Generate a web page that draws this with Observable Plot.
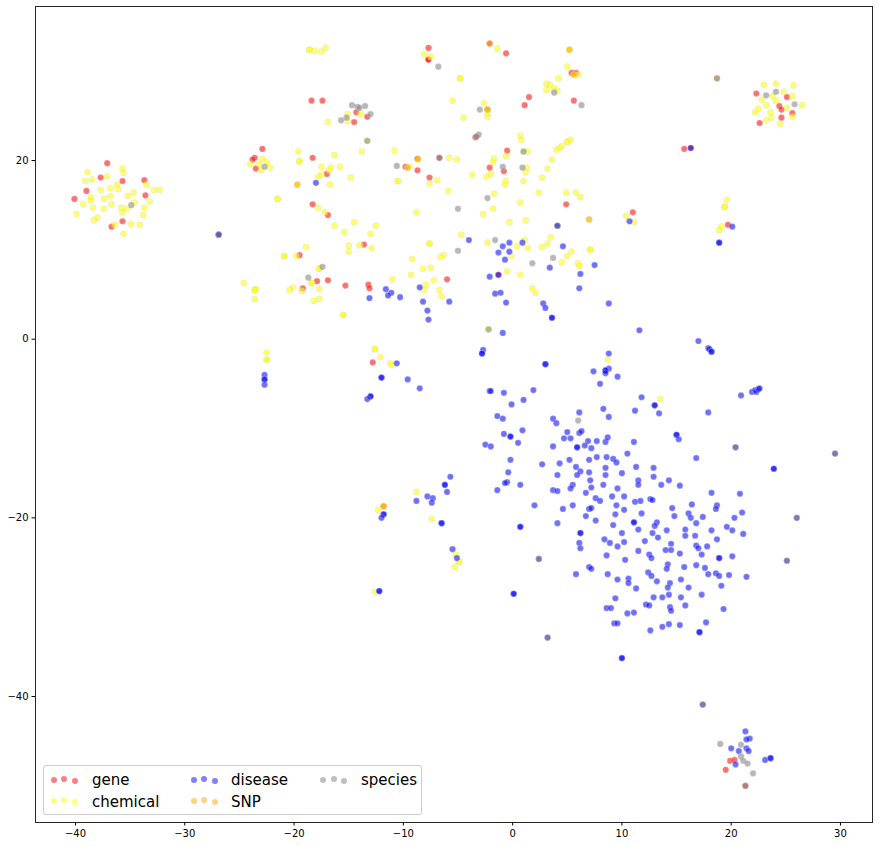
<!DOCTYPE html>
<html><head><meta charset="utf-8">
<script src="https://cdn.jsdelivr.net/npm/d3@7"></script>
<script src="https://cdn.jsdelivr.net/npm/@observablehq/plot@0.6"></script>
<style>
html,body{margin:0;padding:0;background:#fff}
#wrap{position:relative;width:879px;height:846px}
#legend{position:absolute;left:43px;top:765px;width:379px;height:50px;box-sizing:border-box;border:1px solid #ccc;border-radius:3px;background:rgba(255,255,255,.8);font:15px "DejaVu Sans",sans-serif;color:#000}
#legend .t{position:absolute;line-height:18px;white-space:nowrap}
#legend .m{position:absolute;width:6px;height:6px;border-radius:50%;opacity:.5}
svg text{font-family:"DejaVu Sans",sans-serif}
</style></head><body><div id="wrap"></div>
<script>
const seriesNames = ["gene","chemical","disease","SNP","species"];
const seriesColors = ["#ff0000","#ffff00","#0000ff","#ffa500","#808080"];
const xTicks = [-40,-30,-20,-10,0,10,20,30];
const yTicks = [20,0,-20,-40];

const gene = [[-37.1,19.7],[-37.7,18.1],[-35.7,17.7],[-33.7,17.8],[-39,16.6],[-33.6,16.1],[-40.1,15.7],[-35.7,13.2],[-36.7,12.6],
[-22.9,21.3],[-23.6,20.3],[-23.8,20.1],[-23.5,19.1],[-18.3,20.3],[-18.3,15.1],[-19.5,9.4],
[-7.7,32.6],[-7.7,31.3],[-7.7,31.3],[-2.1,33.1],[-0.6,32],[5.4,29.8],[5.8,29.8],[1.5,27.1],[1.1,26.2],[5.6,26.7],[-2.3,25.7],[-18.4,26.7],[-17.4,26.7],[-14.3,25.4],[-13.3,24.9],[-14.5,24.3],[-3.4,22.6],[-0.5,21.1],[-8.7,20.2],[-6.7,20.3],[-9.8,19.3],[-8.7,18.9],[-2.1,19.2],[-0.8,18.8],[-17,18.5],[-7.6,18.1],[4.9,15.1],[-16.9,13.9],[-13.6,10.6],[-1.3,7.2],[-17.9,6.5],[-16.9,6.6],[-15.3,6],[-19.2,5.7],[-13.2,6.1],[-13.1,5.7],[-6,6.7],
[-12.8,-2.6],[-11.8,-18.7],
[22.3,27.5],[25.1,27.1],[24.4,26.1],[24.6,25.7],[25.6,25.3],[24.6,24.8],[22.6,24.2],[15.7,21.3],[16.3,21.4],[19.7,12.8],[11,14.2],
[19.9,-47.2],[20.3,-47.1],[19.5,-48.2],[21.3,-50]];

const chemical = [[-38.9,18.7],[-38.5,17.9],[-39.1,17.7],[-37.1,18.2],[-35.7,19.1],[-35.6,18.6],[-33.5,17.3],[-36.2,17.3],[-36.1,16.8],[-36.8,16.9],[-37.7,16.7],[-34.7,16.4],[-35.2,16],[-32.8,16.7],[-32.3,16.7],[-38.6,15.9],[-38.6,15.5],[-39.3,15.1],[-37.4,15.7],[-36.8,16],[-36.7,15.1],[-38.4,14.7],[-37.4,14.6],[-34.6,15.3],[-33.2,15.4],[-33.7,14.7],[-35.8,14.7],[-35.7,14.2],[-35.3,14.6],[-33.8,13.9],[-39.9,14],[-38.3,13.3],[-38,13.6],[-36.4,12.8],[-34.9,12.9],[-34.1,12.8],[-35.6,11.8],
[-24,19.6],[-23.2,19.6],[-22.9,20.2],[-22.5,19.8],[-23,18.9],[-22.2,19.2],
[-19.6,21],[-19.5,19.9],[-19.5,19.9],[-19.7,17.3],[-21.5,15.7],[-21.5,15.7],[-18.9,10.3],[-20.9,9.3],[-20.9,9.3],[-19.8,9.3],[-24.6,6.3],
[-18.6,32.4],[-18.6,32.4],[-18.1,32.3],[-17.5,32.2],[-17.1,32.6],[-8.1,31.9],[-7.5,31.6],[-1.4,32.5],[5.2,32.4],[5.2,32.4],[-4.8,29.2],[-4.8,29.2],[5,30.5],[5.6,29.6],[6,29.6],[4.2,29.2],[3.1,28.6],[3.4,28.5],[3.8,28.1],[4.1,27.8],[3.1,27.9],[-5.5,26.7],[-2.6,26.4],[-2.3,25.7],[-2.3,25.3],[-2.3,24.9],[-4.5,24.8],[-15.1,25.2],[-13.9,25.2],[-15.1,24.4],[-16.9,24.3],[-13.3,22.2],[0.7,22.8],[0.8,22.3],[5.3,22.3],[5,22.1],[5,22.1],[4.5,21.6],[4.3,21.4],[4,21.2],[1,21],[1.4,21],[-13.8,21],[-10.8,21.1],[-16.3,20.6],[-8.6,20.1],[-5.8,20.3],[-5.1,20.1],[-0.6,20.5],[-1.7,20.2],[-1.8,19.8],[3.6,20.1],[-9.4,19.3],[-9.6,19.2],[1.3,19.2],[1.2,18.7],[3.2,19.1],[-2,18.5],[-2.4,18.2],[-3.7,18.4],[-17.5,19.3],[-16.6,19.2],[-16.8,18.9],[-15.8,19.3],[-17.5,18.4],[-17.8,18.2],[-14.8,18.1],[-16.7,17.3],[-10.5,17.7],[-10.5,17.7],[-6.9,17.8],[-7.6,17.4],[2.7,18.1],[1,17.7],[-0.6,17.7],[-0.7,17.3],[-5.9,16.6],[-1.7,16.3],[2.4,16.4],[4.9,16.4],[5.8,16.4],[6.2,15.9],[0.7,15.3],[-17.8,14.7],[-17.2,14.2],[-8.8,14.2],[-1.8,14.6],[-2.7,14],[-14.5,13.1],[-16.3,12.7],[-12.5,12.7],[-15.4,12],[-13,11.8],[-0.3,13.1],[1.2,13.3],[7,13.4],[-4.7,11.7],[1.1,11.1],[3.5,11.4],[-2.3,10.8],[0.4,10.4],[1.4,10.2],[2.7,10.3],[3.2,10.7],[-7.6,10.7],[-7.6,10.7],[-15,10.5],[-14,10.5],[-12.9,10.2],[-15,9.8],[-9.2,9],[-6.3,9.4],[-6.6,9.2],[-0.1,9.3],[5.4,9.8],[5,9.3],[4.5,8.6],[6,8.5],[6.1,8.2],[7.1,10],[7.1,10],[-8.2,7.9],[-7.5,8],[-9.3,7.2],[-11,6.7],[-7.2,6.6],[-0.5,7.6],[0.7,7.2],[-17.7,7.9],[-17.7,7.9],[-18.4,6.3],[-18.4,6.3],[-7.9,6.1],[-8.1,5.5],[-6.7,5.5],[-6.5,4.8],[-23.5,5.6],[-23.6,5.5],[-23.6,5.5],[-23.6,4.5],[-20.1,5.8],[-20.4,5.5],[-19.3,5.4],[-17.7,5.6],[-17.7,4.5],[-18.2,4.3],[-15.5,2.7],[-15.5,2.7],[-2.2,1.1],[1.8,5.7],[2.1,5.2],
[-22.5,-1.5],[-22.5,-2.3],[-22.5,-2.3],[-12.6,-1.1],[-12.6,-1.1],[-12.1,-2],[-11.2,-2.7],[-11,-2.9],[8.7,-2.3],[13.5,-6.7],[-8.8,-17.1],[-11.8,-18.7],[-12.3,-19.1],[-7.4,-20.1],[-5.2,-24.1],[-4.9,-24.9],[-4.9,-24.9],[-5.3,-25.5],[-12.6,-28.3],
[23,28.5],[24.1,28.6],[25.7,28.4],[24.8,27.7],[23.8,27.2],[25.6,27.2],[22.8,26.8],[24.1,26.7],[23.2,26.2],[25.1,25.9],[26.5,26.2],[22.5,25.8],[22.2,25.4],[23.6,25.4],[23.7,24.8],[23.2,24.5],[25.6,24.9],[24.5,24.1],
[19.6,15.6],[19.4,14.8],[19.4,14.8],[19.1,12.6],[18.9,12.2],[10.4,13.8],[11.1,13.1]];

const disease = [[-26.9,11.7],[-26.9,11.7],[-18,17.5],[-4,11.1],[-0.3,10.8],[0.9,10.8],[-0.9,10.4],[4.6,10.4],[-1.3,9.7],[-0.3,9.8],[-0.7,8.9],[3.4,8],[-2.1,7],[-1.3,7.2],[6.2,7.3],[7.5,8.3],[6.1,5.7],[2.8,4],[3,3.5],[3.6,2.4],[3.6,2.4],[8.8,4],[11.6,1],[4.1,12.7],[4.1,12.7],
[-11.6,5.6],[-11.1,5.2],[-11.4,4.9],[-10.3,4.7],[-13.1,4.6],[-8.5,5.8],[-8.2,4.2],[-7.8,3.2],[-7.7,2.2],[-5.8,4.2],[-1.6,5.1],[-1.1,5.2],[-0.6,4.1],[-0.9,0.7],[-2.7,-1.2],[-2.8,-1.6],[-2.8,-1.6],
[-22.7,-4],[-22.7,-4.5],[-22.7,-4.5],[-22.7,-5.1],[-10.6,-2.7],[-12,-4.3],[-12,-4.3],[-9.6,-4.5],[-8.5,-5.5],[-13,-6.4],[-13,-6.4],[-13.3,-6.7],
[-2.1,-5.8],[-2,-5.8],[-0.8,-6],[-0.1,-7.3],[-1.4,-8.6],[-0.9,-8.9],[-0.8,-10.6],[-0.2,-10.9],[-0.2,-10.9],[0.5,-11.6],[-2.5,-11.8],[-2,-12],[-0.2,-13.5],[-0.4,-14.9],[-0.5,-16],[-0.7,-16.1],[-1.4,-16.9],[0.7,-16.3],[0.7,-21],[0.7,-21],
[-5.7,-15.4],[-6.2,-16.3],[-6.2,-16.3],[-6,-17.1],[-8.8,-18.1],[-7.8,-17.6],[-7.3,-17.8],[-7.4,-18.3],[-6.5,-20.6],[-6.5,-20.6],[-11.8,-19.6],[-11.8,-19.6],[-12,-20],[-5.5,-23.5],[-5.1,-24.5],[-12.2,-28.2],[-12.2,-28.2],[0.1,-28.5],[0.1,-28.5],[10,-35.7],[10,-35.7],[17.4,-40.9],[29.5,-12.8],[20.4,-12.1],[26,-20],[2.4,-24.6],[25.1,-24.8],[3.2,-33.4],
[17,-0.2],[17.9,-1],[18,-1.1],[18.2,-1.4],[18.2,-1.4],[8.8,-1.6],[3,-2.8],[3,-2.8],[7.4,-3.6],[8.8,-3.3],[8.5,-3.5],[8.5,-3.5],[8.5,-3.8],[9.6,-4.2],[8,-5],[1.9,-5.7],[1,-6.8],[11.8,-6.5],[13,-7.4],[13,-7.4],[11.2,-8],[13.4,-8.3],[17.9,-8.2],[20.9,-6.3],[21.9,-5.9],[22.2,-5.7],[22.3,-5.9],[22.5,-5.6],[22.6,-5.5],
[6.1,-8.2],[8.3,-7.8],[8.8,-8.7],[3.7,-8.9],[4,-9.4],[5,-10.4],[6.1,-10.5],[6.3,-10.3],[0.9,-10.2],[4.7,-11.1],[5.3,-11.1],[6.9,-11.4],[7.7,-11.4],[8.5,-11.5],[8.7,-11],[11.1,-11.5],[6.6,-11.9],[3.7,-12],[5.9,-12.1],[5.9,-12.1],[7.2,-12.2],[10.5,-12.8],[15,-10.7],[15,-10.7],[15.2,-11.2],[16.8,-13.3],[23.9,-14.5],[23.9,-14.5],
[7.7,-13.2],[8.6,-13.2],[9.2,-13.4],[9.5,-13.8],[7,-13.5],[5.2,-13.5],[4.3,-13.9],[2.7,-14],[5.8,-14.3],[8.5,-14.4],[11.3,-14.3],[12.9,-14.4],[6.2,-14.8],[7,-14.9],[10,-15],[4.1,-15.2],[5.9,-15.2],[8.5,-15.2],[12.9,-15.4],[7.1,-15.8],[11.5,-15.8],[14.3,-15.8],[5.5,-16.3],[7.2,-16.6],[8.3,-16.3],[11.5,-16.3],[13.6,-16.3],[15.3,-16.4],[5.3,-16.7],[9.6,-16.7],[3.7,-16.9],[4.1,-17],[6.7,-17.2],[18.2,-17.2],[20.8,-17.3],[9.1,-17.6],[10.2,-17.6],[7.6,-17.8],[8,-18.1],[11.2,-18.2],[11.7,-18.1],[12.6,-17.9],[12.8,-18],[2,-18.6],[5.5,-18.6],[9.5,-18.6],[16.4,-18.5],[18.7,-18.6],[4.6,-19],[7,-19],[7.2,-18.9],[10.2,-19.1],[14.6,-18.9],[18.6,-19],[9.4,-19.6],[11.8,-19.5],[16.1,-19.5],[21,-19.4],[6.7,-19.8],[14.8,-19.8],[16.3,-20],[17.4,-19.9],[20.3,-20],[7.6,-20.3],[4.1,-20.6],[11.1,-20.5],[11.1,-20.5],[13.2,-20.5],[16.8,-20.6],[9.2,-20.8],[13,-20.9],[19.6,-21],[11.5,-21.3],[14.1,-21.4],[15.8,-21.3],[18.2,-21.4],[20.1,-21.4],[21.1,-21.8],[10,-21.7],[12.8,-21.7],[15.8,-22],[16.7,-22],[13.3,-22.2],[6.2,-21.7],[6.2,-21.7],[8.4,-22.4],[18.7,-22.4],[8.9,-22.8],[10.2,-22.7],[12.1,-22.6],[6.1,-22.8],[14.5,-22.9],[16.8,-23.1],[17.8,-23.2],[9.6,-23.2],[6.2,-23.4],[17,-23.4],[11.5,-23.7],[14,-23.6],[14.5,-23.6],[15.3,-24],[17.3,-24.1],[8.6,-24.2],[12.5,-24.1],[12.7,-24.5],[20.1,-24.3],[18.9,-24.5],[18.9,-24.5],[10.3,-24.7],[14.2,-25.2],[16.8,-25.3],[7,-25.5],[7.2,-25.7],[14.1,-25.7],[15.7,-25.5],[17.6,-25.6],[5.8,-26.3],[8.7,-26.3],[12.4,-26.1],[12.7,-26.5],[17.9,-26.3],[18.6,-26.2],[18.9,-26.5],[19.8,-26.4],[21.4,-26.6],[9.6,-26.9],[10.6,-26.8],[10.6,-27.3],[13.2,-27.1],[15.4,-26.9],[14.4,-27.3],[14.2,-27.8],[16.1,-27.8],[19.1,-27.6],[11.3,-27.9],[9.4,-29],[12.9,-28.9],[13.7,-28.9],[14.3,-28.6],[15.4,-28.9],[17.3,-28.6],[12.2,-29.7],[12.5,-29.8],[15.8,-29.8],[8.6,-30.1],[9,-30.1],[14.4,-30],[14.5,-30.4],[19.3,-30.2],[10.5,-30.7],[11.1,-30.6],[9.3,-31.8],[9.6,-31.8],[17.7,-31.7],[14.3,-31.9],[13.7,-32.2],[15.3,-32],[12.6,-32.6],[17.1,-32.8],[17.1,-32.8],
[16.3,21.4],[20.1,12.6],[18.9,10.8],[18.9,10.8],[10.7,13.2],
[21.3,-43.9],[21.7,-44.7],[21.4,-44.8],[20,-45.8],[21.4,-45.8],[21.6,-46.1],[20.7,-46.1],[23.1,-47.1],[23.6,-46.9],[23.6,-46.9],[20.4,-47.6]];

const snp = [[-19.7,17.3],[-2.1,33.1],[5.2,32.4],[5.6,29.6],[-2.3,25.7],[-8.7,20.2],[-9.6,19.2],[7,13.4],[-11.8,-18.7],[18.7,29.2]];

const species = [[-34.9,15],[-22.7,19.3],[-18.7,6.9],[-17.4,8.1],[-6.8,30.5],[3.8,27.6],[6.3,26.2],[-3,25.7],[-14.7,26.2],[-14.2,26],[-14,25.9],[-13.5,26.1],[-13,25.2],[-15.2,24.8],[-15.7,24.5],[-3.1,22.9],[-3.3,22.7],[-13.3,22.2],[1,21],[-6.7,20.3],[-10.6,19.4],[-0.9,19.3],[0.9,19.2],[-2.3,15.8],[-5,14.6],[-1.6,11.1],[-5,9.9],[3.7,9.1],[1.8,8.5],[-2.2,1.1],[4.1,12.7],[-26.9,11.7],[18.7,29.2],[23.2,27.3],[24.1,27.7],[25.8,26.3],[6,-9.1],[20.4,-12.1],[29.5,-12.8],[26,-20],[2.4,-24.6],[25.1,-24.8],[3.2,-33.4],[17.4,-40.9],[19,-45.3],[20.9,-45.4],[20.9,-46.7],[21.1,-47.2],[21.5,-47.5],[22,-48.6],[21.3,-50]];

const allSeries = [gene, chemical, disease, snp, species];
const marks = allSeries.map((pts, i) => Plot.dot(pts, {
  x: d => d[0], y: d => d[1], r: 3.1, fill: seriesColors[i], fillOpacity: 0.56,
  stroke: "#d8d8d8", strokeOpacity: 0.45, strokeWidth: 0.8
}));

const chart = Plot.plot({
  width: 879, height: 846,
  marginLeft: 35, marginRight: 7, marginTop: 6, marginBottom: 24,
  style: {background: "#fff", fontSize: "10px", fontFamily: '"DejaVu Sans",sans-serif', color: "#000"},
  x: {domain: [-43.66, 32.93]},
  y: {domain: [-54.1, 37.24]},
  marks: [
    ...marks,
    Plot.frame({stroke: "#000", strokeWidth: 1, strokeOpacity: 0.85}),
    Plot.axisX({ticks: xTicks, label: null, tickSize: 3.5, tickPadding: 3.5, tickFormat: d => String(d).replace("-", "\u2212"), fontSize: 10}),
    Plot.axisY({ticks: yTicks, label: null, tickSize: 3.5, tickPadding: 3.5, tickFormat: d => String(d).replace("-", "\u2212"), fontSize: 10})
  ]
});
const wrap = document.getElementById("wrap");
chart.style.display = "block";
wrap.appendChild(chart);

// legend (column-filled, three scatter points per entry)
const legend = document.createElement("div");
legend.id = "legend";
const legendSlots = [[0,0],[0,1],[1,0],[1,1],[2,0]];
const colMarkX = [6.5, 146.5, 276];
const colTextX = [48, 187, 317];
const rowY = [5, 26];
const textY = [4.5, 26.5];
seriesNames.forEach((name, i) => {
  const [c, r] = legendSlots[i];
  [[0,0],[10.5,-1.5],[21,0.5]].forEach(([dx, dy]) => {
    const m = document.createElement("div");
    m.className = "m";
    m.style.left = (colMarkX[c] + dx) + "px";
    m.style.top = (rowY[r] + 6 + dy) + "px";
    m.style.background = seriesColors[i];
    legend.appendChild(m);
  });
  const t = document.createElement("div");
  t.className = "t";
  t.textContent = name;
  t.style.left = colTextX[c] + "px";
  t.style.top = textY[r] + "px";
  legend.appendChild(t);
});
wrap.appendChild(legend);
</script></body></html>
